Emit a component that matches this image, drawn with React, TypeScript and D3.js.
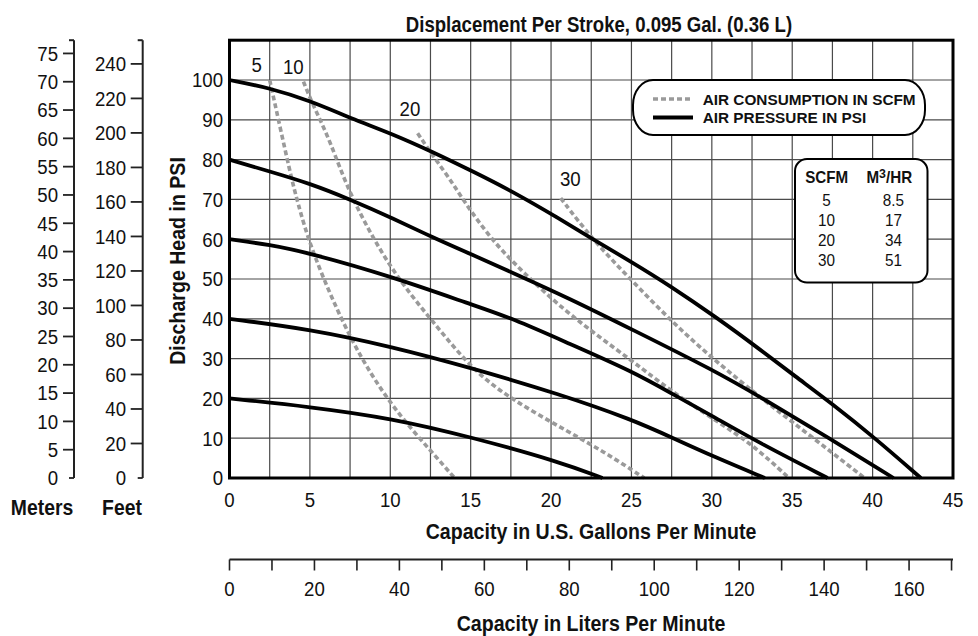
import React from 'react';
import * as d3 from 'd3';

// =============================================================================
// Data
// =============================================================================

const gpmTickLabels = [0, 5, 10, 15, 20, 25, 30, 35, 40, 45];
const gpmGrid = [2.5, 5, 7.5, 10, 12.5, 15, 17.5, 20, 22.5, 25, 27.5, 30, 32.5, 35, 37.5, 40, 42.5];
const psiTicks = [0, 10, 20, 30, 40, 50, 60, 70, 80, 90, 100];
const meterTicks = [0, 5, 10, 15, 20, 25, 30, 35, 40, 45, 50, 55, 60, 65, 70, 75];
const feetTicks = [0, 20, 40, 60, 80, 100, 120, 140, 160, 180, 200, 220, 240];
const literTicks = [0, 10, 20, 30, 40, 50, 60, 70, 80, 90, 100, 110, 120, 130, 140, 150, 160, 170];
const literLabels = [0, 20, 40, 60, 80, 100, 120, 140, 160];

// air pressure curves: [gpm, psi]
const psi100: [number, number][] = [
  [0, 100], [2.5, 98], [5, 94.8], [7.6, 90.3], [10.1, 86.5], [12.6, 82], [15.15, 77],
  [17.6, 72], [20.5, 65.2], [22.6, 60], [25, 54.3], [27.4, 48.3], [30.3, 40.3],
  [32.9, 32.6], [35.2, 25.5], [37.5, 18.6], [40.1, 10.2], [43, 0],
];
const psi80: [number, number][] = [
  [0, 80], [2.5, 77], [5, 74], [7.5, 70], [10.2, 65.2], [12.6, 60.5], [15.1, 56.1],
  [17.6, 51.6], [21.1, 45.2], [25.1, 37.2], [30.1, 27.1], [33, 20.4], [37.3, 10], [41.3, 0],
];
const psi60: [number, number][] = [
  [0, 60], [2.5, 58.6], [5, 56.5], [10.1, 50.6], [15.1, 43.5], [17.6, 40.1], [21.1, 33.8],
  [25.1, 26.7], [27.6, 21], [30.1, 15.4], [33, 8.7], [37.2, 0],
];
const psi40: [number, number][] = [
  [0, 40], [5, 37.4], [10.1, 33], [15.1, 27.6], [20.5, 21.1], [25.1, 14.6], [27.6, 10],
  [30.1, 5.4], [33.3, 0],
];
const psi20: [number, number][] = [
  [0, 20], [5, 17.9], [10.1, 15], [15.1, 10.2], [20.5, 4.1], [23.2, 0],
];
const pressureSeries = [psi100, psi80, psi60, psi40, psi20];

// air consumption curves (SCFM): [gpm, psi]
const scfm5: [number, number][] = [
  [2.5, 100], [3.86, 75], [4.2, 70], [5.05, 57.4], [7.57, 33.9], [10.08, 17.9], [12.57, 6.6], [14, 0],
];
const scfm10: [number, number][] = [
  [4.6, 99.6], [5.1, 94.5], [6.25, 84.9], [7.5, 70.7], [10.08, 51.9], [12.57, 39.7],
  [15.09, 27.2], [17.58, 19.6], [21.1, 11.6], [23.44, 6.2], [25.8, 0],
];
const scfm20: [number, number][] = [
  [11.7, 86.6], [12.7, 80.7], [13.9, 74], [14.5, 70], [16.3, 59.8], [18.2, 51.9], [21.1, 41],
  [25.1, 29.3], [27.6, 21.4], [30.2, 14.6], [32.6, 8.2], [34.8, 0],
];
const scfm30: [number, number][] = [
  [20.6, 70.3], [22.6, 59.8], [25, 49.7], [27.6, 38.9], [30.17, 29.6], [32.97, 20.4],
  [34.84, 14.6], [37.53, 6.2], [39.5, 0],
];
const scfmSeries = [scfm5, scfm10, scfm20, scfm30];
const scfmNames = ['5', '10', '20', '30'];
const scfmLabelAt: [number, number][] = [[1.69, 103.8], [3.97, 103.4], [11.22, 92.9], [21.2, 75.3]];

// conversion table
const tableScfm = ['5', '10', '20', '30'];
const tableM3hr = ['8.5', '17', '34', '51'];

// =============================================================================
// Constants
// =============================================================================

const W = 978;
const H = 636;
const PLOT = { left: 229.5, right: 953, top: 40.2, bottom: 478 };
const FONT = "'Liberation Sans', Arial, Helvetica, sans-serif";
const PSI_TO_M = 0.70307;
const PSI_TO_FT = 2.3067;
const GAL_TO_L = 3.7854;

const x = d3.scaleLinear().domain([0, 45]).range([PLOT.left, PLOT.right]);
const y = d3.scaleLinear().domain([0, 110]).range([PLOT.bottom, PLOT.top]);
const yM = d3.scaleLinear().domain([0, 110 * PSI_TO_M]).range([PLOT.bottom, PLOT.top]);
const yFt = d3.scaleLinear().domain([0, 110 * PSI_TO_FT]).range([PLOT.bottom, PLOT.top]);
const xL = d3.scaleLinear().domain([0, 45 * GAL_TO_L]).range([PLOT.left, PLOT.right]);

// hand-read points are noisy, so a B-spline keeps the curves smooth
const line = d3
  .line<[number, number]>()
  .x((d) => x(d[0]))
  .y((d) => y(d[1]))
  .curve(d3.curveBasis);

// condensed text: plain font squeezed horizontally
function T({
  tx, ty, size = 20.5, bold = false, anchor = 'middle', sx = 0.91, rotate = 0, children,
}: {
  tx: number; ty: number; size?: number; bold?: boolean; anchor?: string; sx?: number;
  rotate?: number; children: React.ReactNode;
}) {
  const rot = rotate ? ` rotate(${rotate})` : '';
  return (
    <text
      transform={`translate(${tx},${ty})${rot} scale(${sx},1)`}
      fontSize={size}
      fontWeight={bold ? 'bold' : 'normal'}
      textAnchor={anchor as any}
      fontFamily={FONT}
      fill="#111"
    >
      {children}
    </text>
  );
}

// =============================================================================
// Component
// =============================================================================

export default function App() {
  const mAxisX = 74;
  const ftAxisX = 142.7;
  const literAxisY = 559.5;

  return (
    <svg
      width={W}
      height={H}
      style={{ position: 'absolute', left: 0, top: 0, background: '#fff' }}
    >
      {/* Title */}
      <T tx={599} ty={31.5} size={22} bold sx={0.845}>
        Displacement Per Stroke, 0.095 Gal. (0.36 L)
      </T>

      {/* Grid */}
      {gpmGrid.map((g) => (
        <line key={`vg${g}`} x1={x(g)} x2={x(g)} y1={PLOT.top} y2={PLOT.bottom} stroke="#4a4a4a" strokeWidth={1.2} />
      ))}
      {psiTicks.slice(1).map((p) => (
        <line key={`hg${p}`} x1={PLOT.left} x2={PLOT.right} y1={y(p)} y2={y(p)} stroke="#4a4a4a" strokeWidth={1.2} />
      ))}

      {/* Air consumption (dashed) */}
      {scfmSeries.map((s, i) => (
        <path key={`sc${i}`} d={line(s) ?? ''} fill="none" stroke="#9a9a9a" strokeWidth={3.6} strokeDasharray="5,3" />
      ))}

      {/* Air pressure (solid) */}
      {pressureSeries.map((s, i) => (
        <path key={`pr${i}`} d={line(s) ?? ''} fill="none" stroke="#000" strokeWidth={3.8} />
      ))}

      {/* SCFM curve labels */}
      {scfmNames.map((n, i) => (
        <T key={`sl${n}`} tx={x(scfmLabelAt[i][0])} ty={y(scfmLabelAt[i][1]) + 7.3}>
          {n}
        </T>
      ))}

      {/* Plot frame */}
      <rect
        x={PLOT.left}
        y={PLOT.top}
        width={PLOT.right - PLOT.left}
        height={PLOT.bottom - PLOT.top}
        fill="none"
        stroke="#000"
        strokeWidth={3}
      />

      {/* Legend */}
      <rect x={633} y={80} width={292} height={55} rx={20} ry={25} fill="#fff" stroke="#000" strokeWidth={2} />
      <line x1={653} x2={693} y1={99} y2={99} stroke="#9a9a9a" strokeWidth={3.6} strokeDasharray="5,3" />
      <line x1={653} x2={693} y1={117.5} y2={117.5} stroke="#000" strokeWidth={3.8} />
      <T tx={702.7} ty={104.5} size={15.5} bold anchor="start" sx={0.99}>AIR CONSUMPTION IN SCFM</T>
      <T tx={702.7} ty={123} size={15.5} bold anchor="start" sx={0.99}>AIR PRESSURE IN PSI</T>

      {/* Conversion table */}
      <rect x={795} y={159} width={132.5} height={123.5} rx={12} fill="#fff" stroke="#000" strokeWidth={2} />
      <T tx={826.7} ty={183.3} size={16} bold sx={0.95}>SCFM</T>
      <T tx={889.3} ty={183.3} size={16} bold sx={0.95}>
        <tspan>M</tspan>
        <tspan dy={-5} fontSize={13}>3</tspan>
        <tspan dy={5}>/HR</tspan>
      </T>
      {tableScfm.map((s, i) => (
        <T key={`ts${s}`} tx={826.5} ty={205.5 + i * 20} size={17} sx={0.9}>{s}</T>
      ))}
      {tableM3hr.map((s, i) => (
        <T key={`tm${s}`} tx={893.5} ty={205.5 + i * 20} size={17} sx={0.9}>{s}</T>
      ))}

      {/* PSI axis labels */}
      {psiTicks.map((p) => (
        <T key={`py${p}`} tx={223} ty={y(p) + 7.3} anchor="end">{p}</T>
      ))}
      <T tx={185} ty={261} size={22} bold sx={0.89} rotate={-90}>Discharge Head in PSI</T>

      {/* GPM axis labels */}
      {gpmTickLabels.map((g) => (
        <T key={`gx${g}`} tx={x(g)} ty={507.3}>{g}</T>
      ))}
      <T tx={591} ty={539.3} size={22} bold sx={0.89}>Capacity in U.S. Gallons Per Minute</T>

      {/* Liters axis */}
      <line x1={PLOT.left} x2={PLOT.right} y1={literAxisY} y2={literAxisY} stroke="#222" strokeWidth={2} />
      {literTicks.map((l) => (
        <line key={`lt${l}`} x1={xL(l)} x2={xL(l)} y1={literAxisY} y2={literAxisY + 11} stroke="#222" strokeWidth={1.6} />
      ))}
      {literLabels.map((l) => (
        <T key={`ll${l}`} tx={xL(l)} ty={595.6}>{l}</T>
      ))}
      <T tx={591} ty={631} size={22} bold sx={0.89}>Capacity in Liters Per Minute</T>

      {/* Meters axis */}
      <line x1={mAxisX} x2={mAxisX} y1={PLOT.top} y2={PLOT.bottom} stroke="#222" strokeWidth={2} />
      <line x1={mAxisX - 5} x2={mAxisX} y1={PLOT.top} y2={PLOT.top} stroke="#222" strokeWidth={2} />
      {meterTicks.map((m) => (
        <line
          key={`mt${m}`}
          x1={m === 0 ? mAxisX - 5 : mAxisX - 11}
          x2={mAxisX}
          y1={yM(m)}
          y2={yM(m)}
          stroke="#222"
          strokeWidth={1.8}
        />
      ))}
      {meterTicks.map((m) => (
        <T key={`ml${m}`} tx={58} ty={yM(m) + 7.3} anchor="end">{m}</T>
      ))}
      <T tx={42} ty={515} size={22} bold sx={0.88}>Meters</T>

      {/* Feet axis */}
      <line x1={ftAxisX} x2={ftAxisX} y1={PLOT.top} y2={PLOT.bottom} stroke="#222" strokeWidth={2} />
      <line x1={ftAxisX - 5} x2={ftAxisX} y1={PLOT.top} y2={PLOT.top} stroke="#222" strokeWidth={2} />
      {feetTicks.map((f) => (
        <line
          key={`ft${f}`}
          x1={f === 0 ? ftAxisX - 5 : ftAxisX - 12}
          x2={ftAxisX}
          y1={yFt(f)}
          y2={yFt(f)}
          stroke="#222"
          strokeWidth={1.8}
        />
      ))}
      {feetTicks.map((f) => (
        <T key={`fl${f}`} tx={126} ty={yFt(f) + 7.3} anchor="end">{f}</T>
      ))}
      <T tx={122} ty={515} size={22} bold sx={0.88}>Feet</T>
    </svg>
  );
}
